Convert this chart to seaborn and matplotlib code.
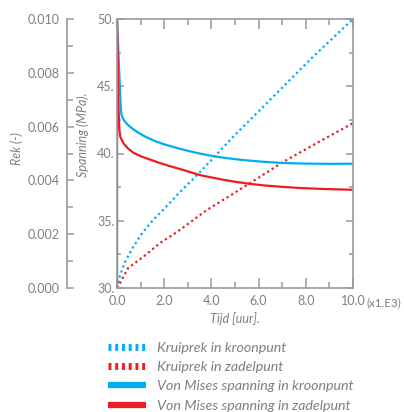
import matplotlib
matplotlib.use("Agg")
import matplotlib.pyplot as plt
from matplotlib.lines import Line2D
from matplotlib.ticker import MultipleLocator, FixedLocator, FixedFormatter
import seaborn as sns

# ---------------- data ----------------
t_rek_kroon = [0, 0.05, 0.13, 0.34, 0.68, 1.1, 1.53, 1.95, 2.67, 3.52, 4.92, 6.41, 8.31, 10.0]
rek_kroon = [0, 0.0002, 0.00048, 0.00097, 0.00152, 0.00208, 0.00253, 0.0029, 0.00357,
             0.00431, 0.00562, 0.00693, 0.0086, 0.0100]

t_rek_zadel = [0, 0.05, 0.13, 0.47, 1.1, 1.82, 2.54, 3.81, 4.49, 5.64, 7.03, 8.47, 10.0]
rek_zadel = [0, 0.0001, 0.00019, 0.00074, 0.00115, 0.00167, 0.00208, 0.0029, 0.00327,
             0.0039, 0.00468, 0.00539, 0.00613]

t_vm_kroon = [0, 0.0, 0.12, 0.16, 0.2, 0.3, 0.45, 0.65, 0.9, 1.2, 1.6, 2.0, 2.5, 3.0, 3.5,
              4.0, 4.5, 5.0, 5.5, 6.0, 6.5, 7.0, 7.5, 8.0, 9.0, 10.0]
vm_kroon = [30, 50, 45.0, 43.3, 42.8, 42.45, 42.15, 41.85, 41.55, 41.25, 40.93, 40.68, 40.43,
            40.2, 40.0, 39.83, 39.69, 39.58, 39.49, 39.41, 39.35, 39.3, 39.27, 39.25, 39.23, 39.24]

t_vm_zadel = [0, 0.0, 0.05, 0.1, 0.13, 0.2, 0.3, 0.45, 0.7, 1.0, 1.4, 1.8, 2.3, 2.8, 3.5,
              4.0, 4.5, 5.0, 5.6, 6.2, 7.0, 7.8, 8.8, 10.0]
vm_zadel = [30, 50, 44.0, 41.8, 41.3, 41.0, 40.7, 40.4, 40.05, 39.8, 39.55, 39.3, 39.03, 38.78,
            38.4, 38.22, 38.05, 37.9, 37.75, 37.63, 37.52, 37.43, 37.36, 37.3]

x_ticks = [0, 2, 4, 6, 8, 10]
x_ticklabels = ["0.0", "2.0", "4.0", "6.0", "8.0", "10.0"]
x_unit = "(x1.E3)"
span_ticks = [30, 35, 40, 45, 50]
span_ticklabels = ["30.", "35.", "40.", "45.", "50."]
rek_ticks = [0.000, 0.002, 0.004, 0.006, 0.008, 0.010]
rek_ticklabels = ["0.000", "0.002", "0.004", "0.006", "0.008", "0.010"]

labels = ["Kruiprek in kroonpunt", "Kruiprek in zadelpunt",
          "Von Mises spanning in kroonpunt", "Von Mises spanning in zadelpunt"]
x_label = "Tijd [uur]."
span_label = "Spanning (MPa)."
rek_label = "Rek (-)"

# ---------------- style ----------------
sns.set_style("white")
plt.rcParams['font.family'] = ['Lato', 'DejaVu Sans']

BLUE = "#00AEEF"
RED = "#ED1C24"
GRAY = "#9a9a9a"
TXT = "#7f7f7f"
FS = 9
LFS = 10.3

fig = plt.figure(figsize=(4.04, 4.12), dpi=100)
ax = fig.add_axes([117 / 404, 1 - 288 / 412, 236 / 404, 269 / 412])
ax2 = ax.twinx()
ax.set_zorder(ax2.get_zorder() + 1)
ax.patch.set_visible(False)

dot = (0, (1.0, 1.4))
sns.lineplot(x=t_rek_kroon, y=rek_kroon, ax=ax2, color=BLUE, linewidth=1.6,
             linestyle=dot, estimator=None, sort=False)
sns.lineplot(x=t_rek_zadel, y=rek_zadel, ax=ax2, color=RED, linewidth=1.6,
             linestyle=dot, estimator=None, sort=False)
sns.lineplot(x=t_vm_kroon, y=vm_kroon, ax=ax, color=BLUE, linewidth=1.6,
             estimator=None, sort=False)
sns.lineplot(x=t_vm_zadel, y=vm_zadel, ax=ax, color=RED, linewidth=1.6,
             estimator=None, sort=False)
for l in ax2.get_lines():
    l.set_dash_capstyle('butt')

ax.set_xlim(0, 10)
ax.set_ylim(30, 50)
ax2.set_ylim(0, 0.010)

# main axes spines / ticks
for s in ax.spines.values():
    s.set_color(GRAY)
    s.set_linewidth(1.2)
ax.xaxis.set_major_locator(FixedLocator(x_ticks))
ax.xaxis.set_major_formatter(FixedFormatter(x_ticklabels))
ax.xaxis.set_minor_locator(MultipleLocator(1))
ax.yaxis.set_major_locator(FixedLocator(span_ticks))
ax.yaxis.set_major_formatter(FixedFormatter(span_ticklabels))
ax.yaxis.set_minor_locator(MultipleLocator(2.5))
ax.tick_params(axis='x', which='both', direction='in', top=True, bottom=True,
               color=GRAY, labelcolor=TXT, labelsize=FS, pad=5)
ax.tick_params(axis='x', which='major', length=7, width=1.1)
ax.tick_params(axis='x', which='minor', length=4, width=1.1)
ax.tick_params(axis='y', which='both', direction='in', left=True, right=True,
               color=GRAY, labelcolor=TXT, labelsize=FS, pad=1.5)
ax.tick_params(axis='y', which='major', length=5, width=1.1)
ax.tick_params(axis='y', which='minor', length=3, width=1.1)
ax.text(1.058, -0.033, x_unit, transform=ax.transAxes, ha='left', va='top',
        color=TXT, fontsize=8.4)

ax.set_xlabel(x_label, color=TXT, fontsize=FS, style='italic', labelpad=4)
ax.set_ylabel(span_label, color=TXT, fontsize=FS, style='italic')
ax.yaxis.set_label_coords(-0.118, 0.57)

# Rek axis
for k in ['right', 'top', 'bottom']:
    ax2.spines[k].set_visible(False)
ax2.spines['left'].set_visible(True)
ax2.spines['left'].set_position(('axes', -50 / 236))
ax2.spines['left'].set_color(GRAY)
ax2.spines['left'].set_linewidth(1.2)
ax2.yaxis.set_ticks_position('left')
ax2.yaxis.set_label_position('left')
ax2.yaxis.set_major_locator(FixedLocator(rek_ticks))
ax2.yaxis.set_major_formatter(FixedFormatter(rek_ticklabels))
ax2.yaxis.set_minor_locator(MultipleLocator(0.001))
ax2.tick_params(axis='y', which='both', direction='in', color=GRAY,
                labelcolor=TXT, labelsize=FS, pad=5)
ax2.tick_params(axis='y', which='major', length=5, width=1.1)
ax2.tick_params(axis='y', which='minor', length=4, width=1.1)
ax2.set_ylabel(rek_label, color=TXT, fontsize=FS, style='italic')
ax2.yaxis.set_label_coords(-0.40, 0.52)

# legend
handles = [
    Line2D([], [], color=BLUE, linewidth=5, linestyle=(0, (0.42, 0.55)), dash_capstyle='butt'),
    Line2D([], [], color=RED, linewidth=5, linestyle=(0, (0.42, 0.55)), dash_capstyle='butt'),
    Line2D([], [], color=BLUE, linewidth=4.5, solid_capstyle='butt'),
    Line2D([], [], color=RED, linewidth=4.5, solid_capstyle='butt'),
]
leg = fig.legend(handles, labels, loc='upper left',
                 bbox_to_anchor=(108 / 404, 1 - 342 / 412), frameon=False,
                 borderpad=0, borderaxespad=0, handlelength=2.66, handletextpad=0.77,
                 labelspacing=0.5,
                 prop={'size': LFS, 'style': 'italic', 'family': ['Lato', 'DejaVu Sans']})
for t in leg.get_texts():
    t.set_color(TXT)

fig.savefig("out.png", dpi=100)
